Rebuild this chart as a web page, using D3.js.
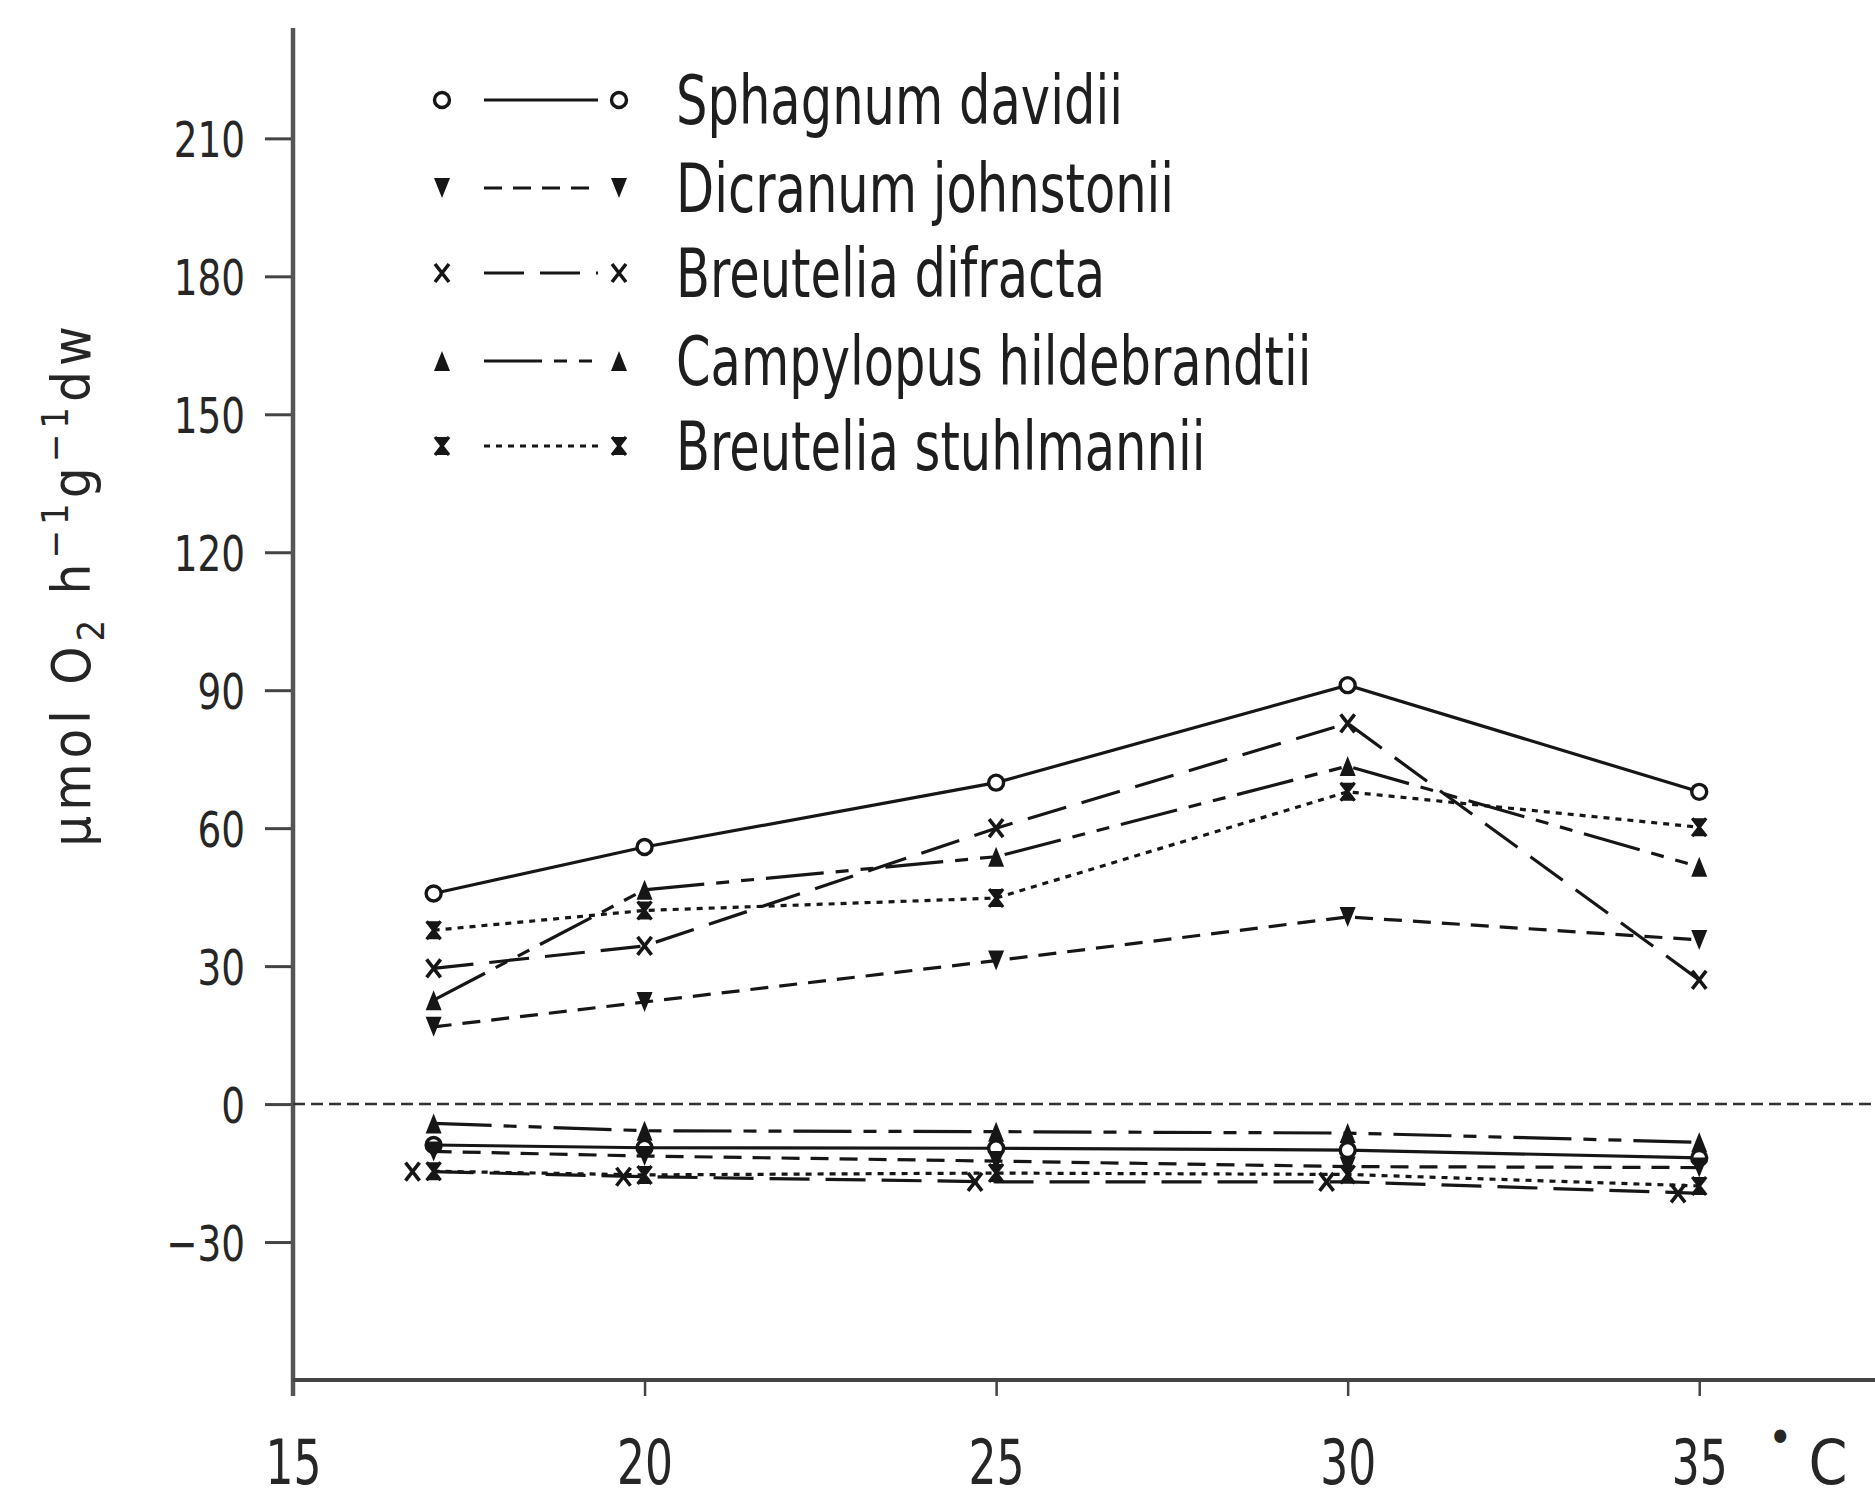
<!DOCTYPE html>
<html><head><meta charset="utf-8">
<script src="https://cdn.jsdelivr.net/npm/d3@7"></script>
<style>body{margin:0;background:#fff} svg{display:block}</style>
</head><body>
<svg id="c" width="1875" height="1501"></svg>
<script>
// ---------- data ----------
const temps = [17, 20, 25, 30, 35];
const difractaRespTemps = [16.7, 19.7, 24.7, 29.7, 34.7];
const speciesNames = ["Sphagnum davidii", "Dicranum johnstonii", "Breutelia difracta", "Campylopus hildebrandtii", "Breutelia stuhlmannii"];
// net photosynthesis (positive)
const sphagnumPhoto    = [45.8, 55.9, 69.9, 91.1, 67.9];
const dicranumPhoto    = [16.8, 22.2, 31.2, 40.7, 35.7];
const difractaPhoto    = [29.5, 34.4, 60.0, 82.8, 27.0];
const campylopusPhoto  = [22.6, 46.6, 53.8, 73.5, 51.6];
const stuhlmanniiPhoto = [37.8, 42.1, 44.8, 67.9, 60.2];
// dark respiration (negative)
const sphagnumResp    = [-8.9, -9.5, -9.6, -10.0, -11.7];
const dicranumResp    = [-10.3, -11.3, -12.4, -13.6, -13.8];
const difractaResp    = [-14.7, -15.8, -16.9, -16.9, -19.4];
const campylopusResp  = [-4.2, -5.8, -6.0, -6.3, -8.3];
const stuhlmanniiResp = [-14.6, -15.4, -15.0, -15.3, -17.8];
const yTicks = [-30, 0, 30, 60, 90, 120, 150, 180, 210];
const xTicks = [15, 20, 25, 30, 35];
const yDomain = [-60, 234];
const xDomain = [15, 37.5];

// ---------- styles ----------
const FONT = "'DejaVu Sans Condensed','Liberation Sans Narrow',sans-serif";
const INK = "#161616";
const styles = [
  {marker: "circle", dash: null},
  {marker: "triDown", dash: "18,11"},
  {marker: "x", dash: "40,16"},
  {marker: "triUp", dash: "58,12,13,12,13,12"},
  {marker: "hourglass", dash: "6,6"}
];
const series = [
  {photo: sphagnumPhoto, resp: sphagnumResp, respT: temps},
  {photo: dicranumPhoto, resp: dicranumResp, respT: temps},
  {photo: difractaPhoto, resp: difractaResp, respT: difractaRespTemps},
  {photo: campylopusPhoto, resp: campylopusResp, respT: temps},
  {photo: stuhlmanniiPhoto, resp: stuhlmanniiResp, respT: temps}
].map((s, i) => Object.assign(s, {name: speciesNames[i]}, styles[i]));

function squeeze(sel, f) {
  sel.each(function () {
    const L = this.getComputedTextLength();
    d3.select(this).attr("textLength", L * f).attr("lengthAdjust", "spacingAndGlyphs");
  });
}

const svg = d3.select("#c");
const x = d3.scaleLinear().domain(xDomain).range([293, 1875]);
const y = d3.scaleLinear().domain(yDomain).range([1380, 28]);

// ---------- axes ----------
const yAxis = svg.append("g").attr("transform", `translate(${x(15)},0)`)
  .call(d3.axisLeft(y).tickValues(yTicks).tickSize(28).tickPadding(20).tickFormat(d => d < 0 ? "\u2212" + Math.abs(d) : d));
yAxis.select(".domain").remove();
yAxis.selectAll(".tick line").attr("stroke", "#444").attr("stroke-width", 3);
yAxis.selectAll(".tick text").attr("font-family", FONT).attr("font-size", 50).attr("fill", "#262626").attr("dy", "0.36em");
squeeze(yAxis.selectAll(".tick text"), 0.83);

const xAxis = svg.append("g").attr("transform", `translate(0,${y(-60)})`)
  .call(d3.axisBottom(x).tickValues(xTicks).tickSize(16).tickPadding(88));
xAxis.select(".domain").remove();
xAxis.selectAll(".tick line").attr("stroke", "#444").attr("stroke-width", 2.5);
xAxis.selectAll(".tick text").attr("font-family", FONT).attr("font-size", 62).attr("fill", "#262626")
  .attr("dy", 0).attr("textLength", 56).attr("lengthAdjust", "spacingAndGlyphs");

svg.append("line").attr("x1", x(15)).attr("x2", x(15)).attr("y1", y(yDomain[1])).attr("y2", y(-60) + 16)
  .attr("stroke", "#555").attr("stroke-width", 4.5);
svg.append("line").attr("x1", x(15)).attr("x2", x(xDomain[1])).attr("y1", y(-60)).attr("y2", y(-60))
  .attr("stroke", "#444").attr("stroke-width", 4);
// zero line
svg.append("line").attr("x1", x(15)).attr("x2", x(xDomain[1])).attr("y1", y(0)).attr("y2", y(0))
  .attr("stroke", "#333").attr("stroke-width", 2.5).attr("stroke-dasharray", "12,6");

// degree label
const deg = svg.append("text").attr("x", 1768).attr("y", y(-60) + 104).attr("font-family", FONT).attr("fill", "#262626");
deg.append("tspan").attr("font-size", 46).attr("dy", -30).text("\u2022");
deg.append("tspan").attr("font-size", 62).attr("dx", 16).attr("dy", 30).text("C");

// y label
const yl = svg.append("text").attr("transform", "translate(90,584) rotate(-90)").attr("text-anchor", "middle")
  .attr("font-family", FONT).attr("font-size", 54).attr("fill", "#262626").attr("letter-spacing", 5);
yl.append("tspan").text("\u03bcmol O");
yl.append("tspan").attr("font-size", 38).attr("dy", 14).text("2");
yl.append("tspan").attr("dy", -14).text(" h");
yl.append("tspan").attr("font-size", 38).attr("dy", -22).text("\u22121");
yl.append("tspan").attr("dy", 22).text("g");
yl.append("tspan").attr("font-size", 38).attr("dy", -22).text("\u22121");
yl.append("tspan").attr("dy", 22).text("dw");

// ---------- markers ----------
function marker(g, type, cx, cy) {
  const m = g.append("g").attr("transform", `translate(${cx},${cy})`);
  if (type === "circle") {
    m.append("circle").attr("r", 7.5).attr("fill", "#fff").attr("stroke", INK).attr("stroke-width", 3.4);
  } else if (type === "triDown") {
    m.append("path").attr("d", "M-8,-10L8,-10L0,10Z").attr("fill", INK);
  } else if (type === "triUp") {
    m.append("path").attr("d", "M-8,10L8,10L0,-10Z").attr("fill", INK);
  } else if (type === "x") {
    m.append("path").attr("d", "M-7,-9L7,9M7,-9L-7,9").attr("stroke", INK).attr("stroke-width", 3.6).attr("fill", "none");
  } else if (type === "hourglass") {
    m.append("path").attr("d", "M-7,-9L7,-9L0,0ZM-7,9L7,9L0,0Z").attr("fill", INK);
    m.append("path").attr("d", "M-7,-9L7,9M7,-9L-7,9").attr("stroke", INK).attr("stroke-width", 3.2).attr("fill", "none");
  }
}

const line = d3.line().x(d => x(d[0])).y(d => y(d[1]));
const gLines = svg.append("g");
const gMarks = svg.append("g");
series.forEach(s => {
  const up = temps.map((t, i) => [t, s.photo[i]]);
  const dn = temps.map((t, i) => [t, s.resp[i]]);
  [up, dn].forEach(pts => {
    gLines.append("path").attr("d", line(pts)).attr("fill", "none").attr("stroke", INK)
      .attr("stroke-width", 3.2).attr("stroke-dasharray", s.dash);
  });
  up.forEach(p => marker(gMarks, s.marker, x(p[0]), y(p[1])));
  s.respT.forEach((t, i) => marker(gMarks, s.marker, x(t), y(s.resp[i])));
});

// ---------- legend ----------
const legY = [100, 188, 273, 361, 446];
const leg = svg.append("g");
series.forEach((s, i) => {
  const cy = legY[i];
  marker(leg, s.marker, 442, cy);
  leg.append("line").attr("x1", 484).attr("x2", 598).attr("y1", cy).attr("y2", cy)
    .attr("stroke", INK).attr("stroke-width", 3).attr("stroke-dasharray", s.dash);
  marker(leg, s.marker, 619, cy);
  const t = leg.append("text").attr("x", 676).attr("y", cy + 24).attr("font-family", FONT).attr("font-size", 68)
    .attr("fill", "#1e1e1e").text(s.name);
  squeeze(t, 0.81);
});
</script>
</body></html>
